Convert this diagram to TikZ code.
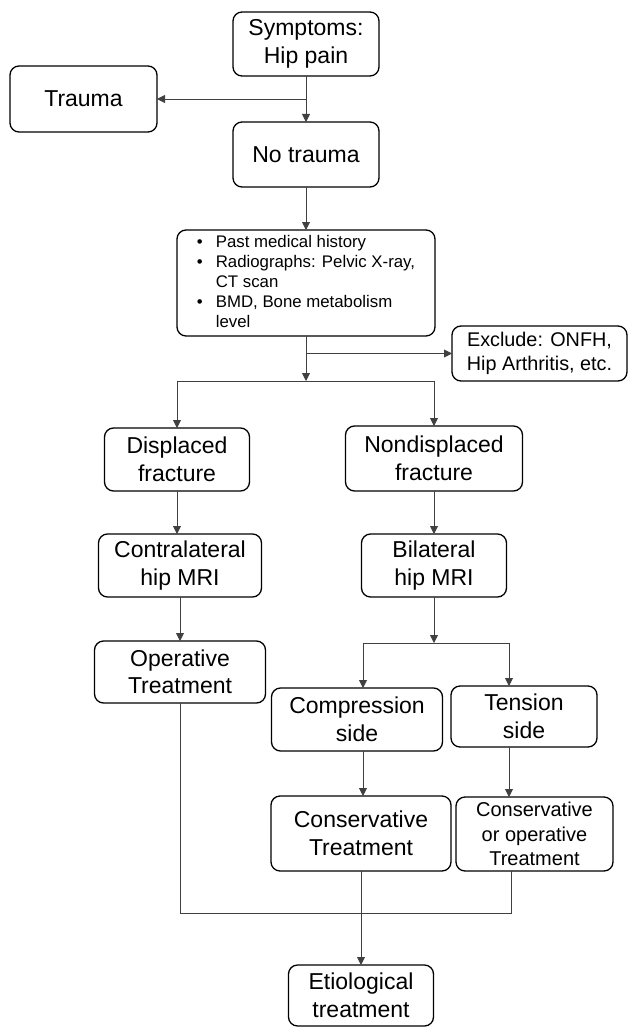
\documentclass[tikz,border=0pt]{standalone}
\usepackage{fontspec}
\setmainfont{Liberation Sans}
\usetikzlibrary{positioning, arrows.meta}

\begin{document}
\begin{tikzpicture}
	[->,
	 >={Triangle[length=8pt, width=8pt]},
	 box/.style={draw=black, line width=1.3pt, rounded corners=9pt, align=center, inner sep=0pt,
	             outer sep=0pt, font=\fontsize{23}{27.5}\selectfont},
	 link/.style={draw=black!75, line width=0.9pt}]

	\useasboundingbox (0,0) rectangle (627pt,-1027pt);

	\node[box, minimum width=146pt, minimum height=64pt] (sym) at (306pt,-44pt) {Symptoms:\\Hip pain};
	\node[box, below=46pt of sym, minimum width=146pt, minimum height=65pt] (notrauma) {No trauma};
	\node[box, left=76pt of sym, yshift=-55pt, minimum width=147pt, minimum height=66pt] (trauma) {Trauma};
	\node[box, below=43pt of notrauma, minimum width=258pt, minimum height=106pt,
	      font=\fontsize{16.8}{20}\selectfont] (history)
	      {\begin{tabular}{@{}l@{\hspace{13pt}}l@{}}
	       \textbullet & Past medical history\\
	       \textbullet & Radiographs: Pelvic X-ray,\\
	                   & CT scan\\
	       \textbullet & BMD, Bone metabolism\\
	                   & level
	       \end{tabular}};
	\node[box, right=17pt of history, yshift=-70.5pt, minimum width=175pt, minimum height=55pt,
	      font=\fontsize{19.8}{23.3}\selectfont] (exclude) {Exclude: ONFH,\\Hip Arthritis, etc.};
	\coordinate[below=45pt of history] (fork1);

	\node[box, below=92pt of history.south west, minimum width=145pt, minimum height=63pt] (disp) {Displaced\\fracture};
	\node[box, below=90pt of history.south east, xshift=-1pt, minimum width=177pt, minimum height=65pt] (nondisp) {Nondisplaced\\fracture};
	\node[box, below=43pt of disp, xshift=3pt, minimum width=163pt, minimum height=63pt] (contra) {Contralateral\\hip MRI};
	\node[box, below=43pt of nondisp, minimum width=145pt, minimum height=63pt] (bilat) {Bilateral\\hip MRI};
	\node[box, below=44pt of contra, minimum width=171pt, minimum height=62pt] (oper) {Operative\\Treatment};
	\coordinate[below=46pt of bilat] (fork2);

	\node[box, below=91pt of bilat, xshift=-77pt, minimum width=171pt, minimum height=63pt] (comp) {Compression\\side};
	\node[box, below=89pt of bilat, xshift=90pt, minimum width=146pt, minimum height=61pt] (tens) {Tension\\side};
	\node[box, below=45pt of comp, xshift=4pt, minimum width=180pt, minimum height=75pt] (constreat) {Conservative\\Treatment};
	\node[box, below=50pt of tens, xshift=10.5pt, minimum width=157pt, minimum height=74pt,
	      font=\fontsize{20}{24.5}\selectfont] (consop) {Conservative\\or operative\\Treatment};
	\node[box, below=94pt of constreat, minimum width=145pt, minimum height=61pt] (etio) {Etiological\\treatment};

	% top part
	\draw[link] (sym) -- (notrauma);
	\draw[link] (sym.south |- trauma.east) -- (trauma);
	\draw[link] (notrauma) -- (history);
	\draw[link] (history.south |- exclude.west) -- (exclude);
	\draw[link] (history) -- (fork1);
	\draw[link] (fork1) -| (disp);
	\draw[link] (fork1) -| (nondisp);

	% two branches
	\draw[link] (disp) -- (disp |- contra.north);
	\draw[link] (contra) -- (contra |- oper.north);
	\draw[link] (nondisp) -- (bilat);
	\draw[link] (bilat) -- (fork2);
	\draw[link] (fork2) -| ([xshift=6pt]comp.north);
	\draw[link] (fork2) -| ([xshift=-15pt]tens.north);
	\draw[link] ([xshift=6pt]comp.south) -- ([xshift=6pt]comp.south |- constreat.north);
	\draw[link] ([xshift=-15pt]tens.south) -- ([xshift=-15pt]tens.south |- consop.north);

	% merge
	\draw[link, -] (oper) |- ([xshift=-23.5pt, yshift=-42pt]consop.south) -- ([xshift=-23.5pt]consop.south);
	\draw[link] (constreat) -- (etio);
\end{tikzpicture}
\end{document}
